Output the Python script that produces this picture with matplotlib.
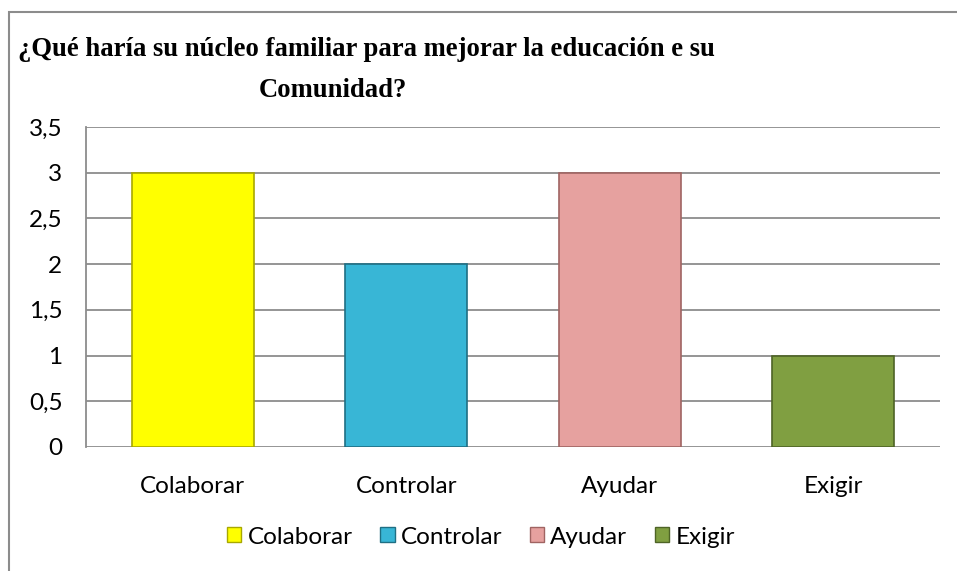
import matplotlib.pyplot as plt
from matplotlib.patches import Rectangle, Patch

categorias = ["Colaborar", "Controlar", "Ayudar", "Exigir"]
valores = [3, 2, 3, 1]
colores = ["#FFFF00", "#38B6D6", "#E6A19F", "#809F41"]
bordes = ["#A8A800", "#1F6F84", "#A06462", "#4E6426"]
y_ticks = [0, 0.5, 1, 1.5, 2, 2.5, 3, 3.5]
y_labels = ["0", "0,5", "1", "1,5", "2", "2,5", "3", "3,5"]

fig = plt.figure(figsize=(9.57, 5.71), dpi=100)
ax = fig.add_axes([0.0899, 0.2172, 0.8923, 0.5604])

# marco exterior del grafico
fig.patches.append(Rectangle((9 / 957, -0.01), 1.0, 1 - 12 / 571 + 0.01,
                             transform=fig.transFigure, fill=False,
                             edgecolor="#8C8C8C", linewidth=1.5))

x = range(len(categorias))
ax.bar(x, valores, width=0.57, color=colores, edgecolor=bordes, linewidth=1.2, zorder=3)

ax.set_xlim(-0.5, 3.5)
ax.set_ylim(0, 3.5)
ax.set_yticks(y_ticks)
ax.set_yticklabels(y_labels)
ax.set_xticks(list(x))
ax.set_xticklabels(categorias)
ax.grid(axis="y", color="#8C8C8C", linewidth=1.3, zorder=0)
ax.tick_params(length=0, labelsize=17.5)
ax.tick_params(axis="y", pad=17)
ax.tick_params(axis="x", pad=21)
for lbl in ax.get_xticklabels() + ax.get_yticklabels():
    lbl.set_family("Lato")
for s in ["top", "right", "bottom"]:
    ax.spines[s].set_visible(False)
ax.spines["left"].set_color("#8C8C8C")
ax.spines["left"].set_linewidth(1.3)

fig.text(18 / 957, 1 - 56 / 571, "¿Qué haría su núcleo familiar para mejorar la educación e su",
         family="Liberation Serif", weight="bold", fontsize=19.2, ha="left", va="baseline")
fig.text(333 / 957, 1 - 97 / 571, "Comunidad?",
         family="Liberation Serif", weight="bold", fontsize=19.2, ha="center", va="baseline")

handles = [Patch(facecolor=c, edgecolor=b) for c, b in zip(colores, bordes)]
fig.legend(handles, categorias, loc="center", bbox_to_anchor=(481 / 957, 1 - 537 / 571),
           ncol=4, frameon=False, prop={"family": "Lato", "size": 17.5},
           handlelength=0.58, handleheight=0.58, handletextpad=0.25, columnspacing=1.15)

fig.savefig("out.png", dpi=100)
